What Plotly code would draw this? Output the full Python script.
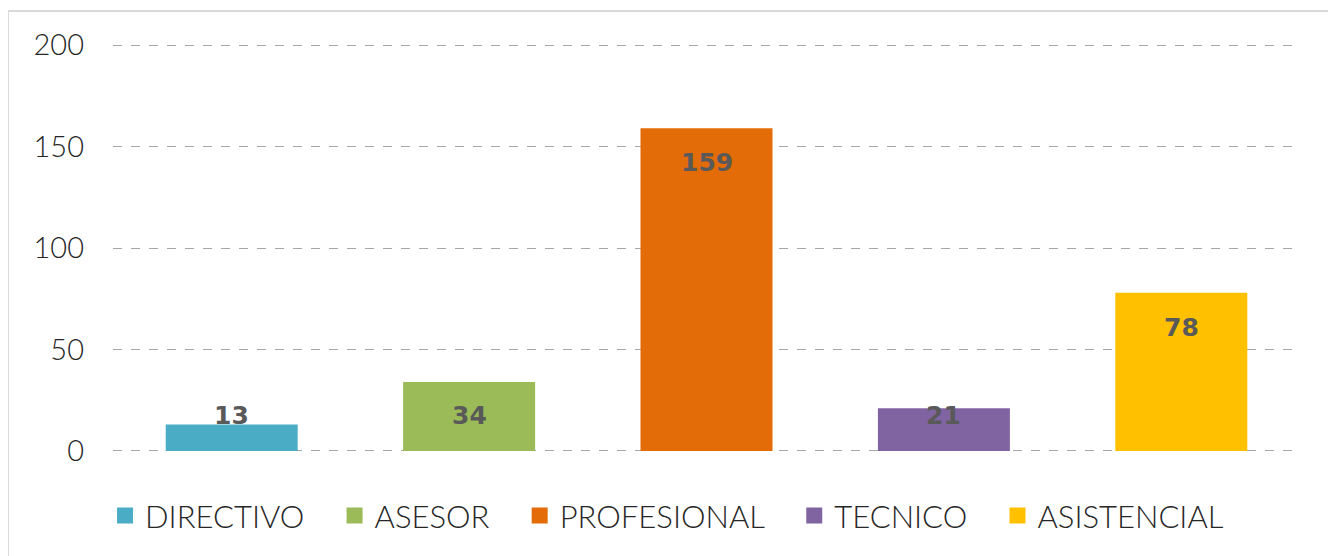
import plotly.graph_objects as go

categories = ["DIRECTIVO", "ASESOR", "PROFESIONAL", "TECNICO", "ASISTENCIAL"]
values = [13, 34, 159, 21, 78]
colors = ["#4BACC6", "#9BBB59", "#E36C09", "#8064A2", "#FFC000"]
y_ticks = [0, 50, 100, 150, 200]

FONT = "Lato"
PAD = "\u00a0\u00a0\u00a0"

fig = go.Figure()
for cat, val, col in zip(categories, values, colors):
    fig.add_trace(go.Bar(
        x=[cat], y=[val], name=cat, width=0.556,
        marker=dict(color=col, line=dict(width=0)),
        showlegend=False, hoverinfo="x+y",
    ))
    fig.add_trace(go.Scatter(
        x=[None], y=[None], name=cat + PAD, mode="markers",
        marker=dict(symbol="square", size=16, color=col),
        showlegend=True,
    ))

for cat, val in zip(categories, values):
    fig.add_annotation(
        x=cat, y=max(val - 17, 17.7), text=f"<b>{val}</b>", showarrow=False,
        font=dict(family="DejaVu Sans", size=25, color="#595959"),
        xanchor="center", yanchor="middle",
    )

fig.add_shape(type="rect", xref="paper", yref="paper",
              x0=-0.0885, x1=1.2, y0=-0.5, y1=1.0725,
              line=dict(color="#D9D9D9", width=2), fillcolor="rgba(0,0,0,0)", layer="below")

fig.update_layout(
    width=1328, height=548,
    margin=dict(l=105, r=36, t=33, b=101),
    paper_bgcolor="white", plot_bgcolor="white",
    barmode="overlay",
    font=dict(family=FONT, size=28, color="#262626"),
    xaxis=dict(categoryorder="array", categoryarray=categories,
               showticklabels=False, showgrid=False, zeroline=False,
               showline=False, ticks=""),
    yaxis=dict(range=[-2, 202], tickvals=y_ticks, showgrid=True,
               gridcolor="#A6A6A6", griddash="dash", gridwidth=1,
               zeroline=False, showline=False, ticks="",
               ticklabelstandoff=28,
               tickfont=dict(family=FONT, size=29, color="#262626", weight=300)),
    legend=dict(orientation="h", x=-0.0067, xanchor="left", y=-0.147, yanchor="middle",
                font=dict(family=FONT, size=31, color="#262626", weight=300),
                itemsizing="trace", bgcolor="rgba(0,0,0,0)"),
)

fig.write_html("out.html")
